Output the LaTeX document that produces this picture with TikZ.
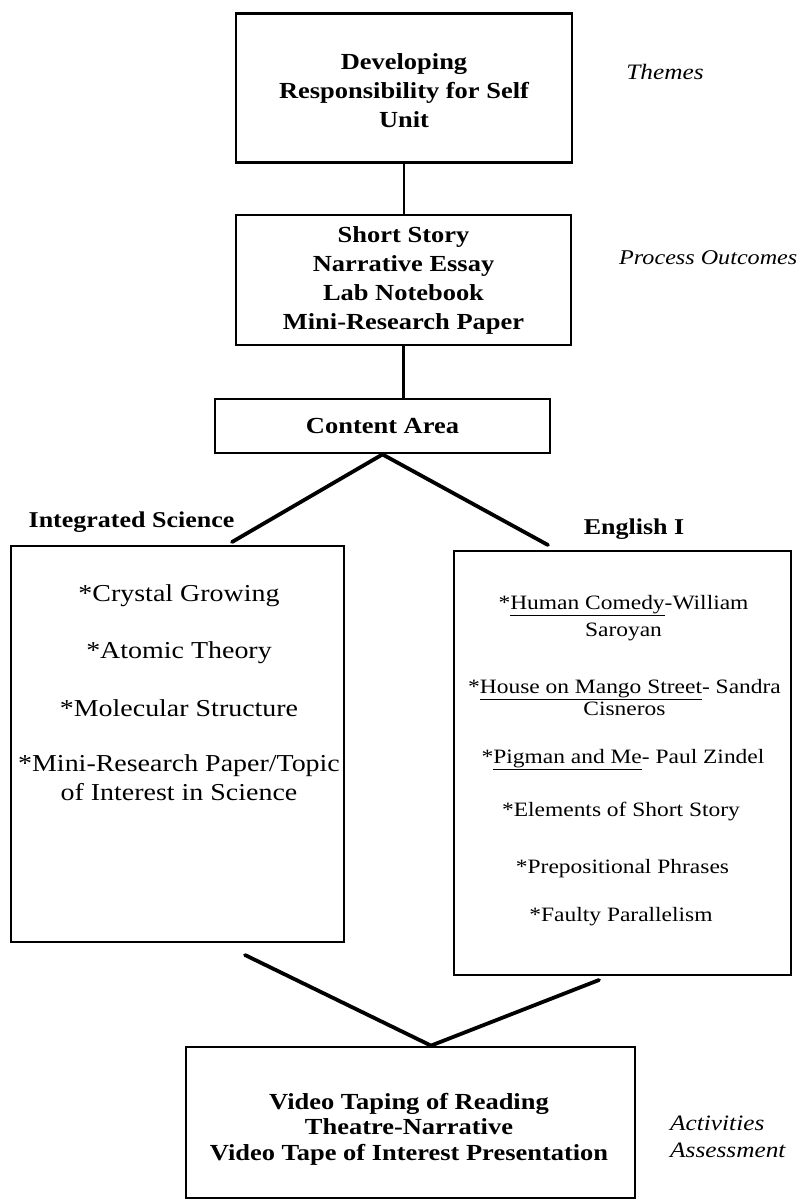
\documentclass[tikz,border=0pt]{standalone}
\usepackage{fontspec}
\setmainfont{Liberation Serif}[FakeStretch=1.15]
\usetikzlibrary{calc}
\tikzset{
  frame/.style={draw, rectangle, line width=2.8pt, inner sep=0pt},
  link/.style={line width=2.2pt},
  slant/.style={line width=3.8pt, line cap=round},
  boxtext/.style={align=center, font=\fontsize{23}{29}\selectfont\bfseries},
  acttext/.style={inner sep=0pt, align=center, font=\fontsize{23}{25.5}\selectfont\bfseries},
  tag/.style={inner sep=0pt, font=\fontsize{22}{27}\selectfont\itshape},
  head/.style={inner sep=0pt, font=\fontsize{22.6}{26}\selectfont\bfseries},
  sci/.style={inner sep=0pt, align=center, font=\fontsize{24.3}{29}\selectfont},
  eng/.style={inner sep=0pt, align=center, font=\fontsize{20.4}{24}\selectfont},
}
\begin{document}
\begin{tikzpicture}[x=1pt,y=-1pt]
\useasboundingbox (0,0) rectangle (809,1203);

% main chain of boxes
\node[frame, minimum width=336pt, minimum height=149pt] (unit) at (404,88) {};
\node[boxtext, inner sep=0pt] (unittext) at (404,91)
  {Developing\\Responsibility for Self\\Unit};
\node[frame, boxtext, minimum width=335pt, minimum height=130pt] (forms) at (403.5,280)
  {Short Story\\Narrative Essay\\Lab Notebook\\Mini-Research Paper};
\node[frame, boxtext, minimum width=335pt, minimum height=54pt] (area) at (382.5,426)
  {Content Area};

% subject boxes
\node[frame, minimum width=333pt, minimum height=396pt] (science) at (177.5,744) {};
\node[frame, minimum width=337pt, minimum height=424pt] (english) at (622.5,763) {};

% final box and its text
\node[frame, minimum width=449pt, minimum height=151pt] (act) at (410.5,1122.5) {};
\node[acttext] (actlist) at (409,1129)
  {Video Taping of Reading\\Theatre-Narrative\\Video Tape of Interest Presentation};

% side labels
\node[tag] (themes) at (665,72) {Themes};
\node[tag, anchor=west, font=\fontsize{21}{27}\selectfont\itshape] (outcomes) at (619,258) {Process Outcomes};
\node[tag, anchor=west, align=left] (assess) at (670,1137) {Activities\\Assessment};

% subject headings
\node[head] (scihead) at (131.5,522) {Integrated Science};
\node[head] (enghead) at (634,529) {English I};

% science topics
\node[sci] (s1) at (179,596) {*Crystal Growing};
\node[sci] (s2) at (179,653) {*Atomic Theory};
\node[sci] (s3) at (179,708) {*Molecular Structure};
\node[sci] (s4) at (179,778) {*Mini-Research Paper/Topic\\of Interest in Science};

% english topics
\node[eng, font=\fontsize{20.4}{27}\selectfont] (e1) at (623.5,618) {*\underline{Human Comedy}-William\\Saroyan};
\node[eng, font=\fontsize{20.4}{22}\selectfont] (e2) at (624.5,697.5) {*\underline{House on Mango Street}- Sandra\\Cisneros};
\node[eng] (e3) at (623,759.5) {*\underline{Pigman and Me}- Paul Zindel};
\node[eng] (e4) at (621,811.5) {*Elements of Short Story};
\node[eng] (e5) at (622.5,868.5) {*Prepositional Phrases};
\node[eng] (e6) at (621,916.5) {*Faulty Parallelism};

% vertical connectors
\draw[link] (unit.south) -- (unit.south |- forms.north);
\draw[link] (forms.south) -- (forms.south |- area.north);

% fork into the two subjects
\coordinate (sciend) at (232,542);
\coordinate (engend) at (548,545);
\draw[slant] (area.south) -- (sciend);
\draw[slant] (area.south) -- (engend);

% merge into the final box
\coordinate (scilow) at (245,955);
\coordinate (englow) at (599,980);
\coordinate (join) at ($(act.north)+(20.5,0)$);
\draw[slant] (scilow) -- (join) -- (englow);
\end{tikzpicture}
\end{document}
